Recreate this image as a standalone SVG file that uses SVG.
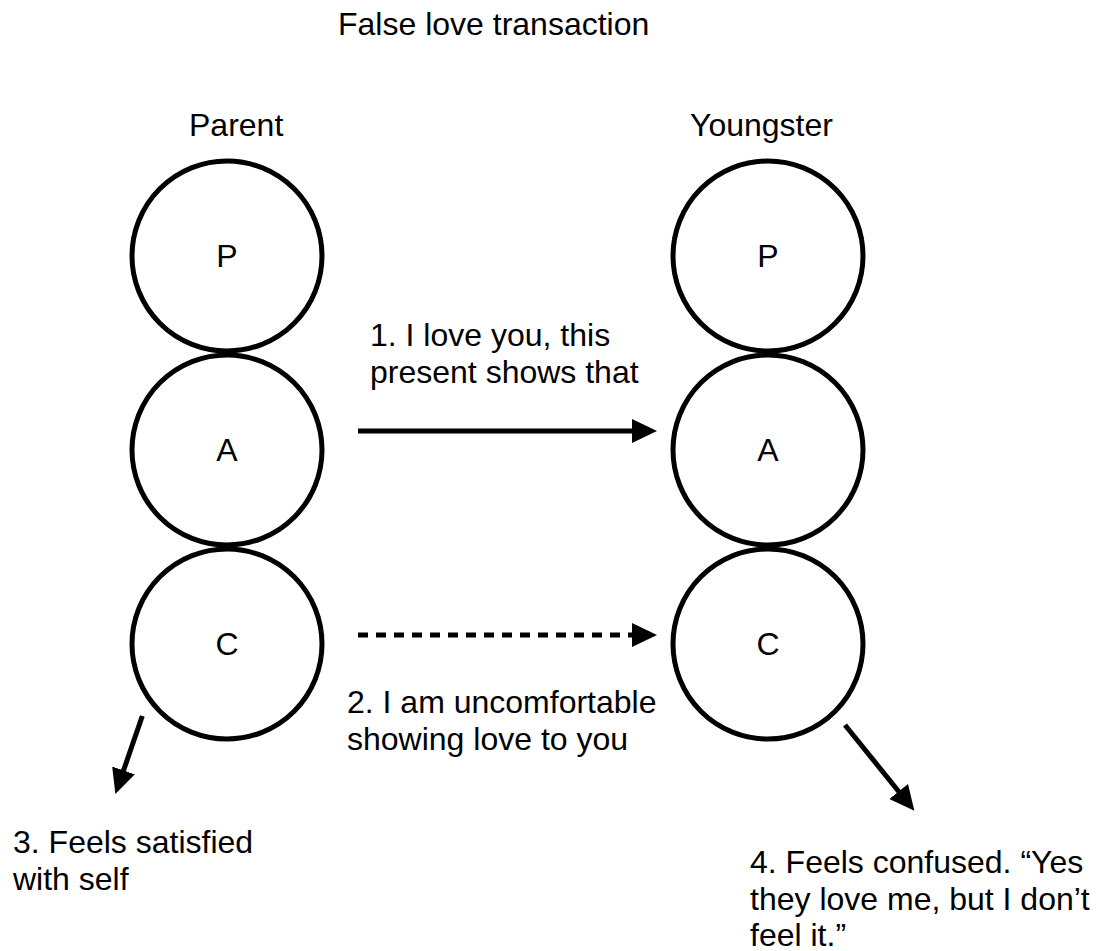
<svg xmlns="http://www.w3.org/2000/svg" width="1101" height="951" viewBox="0 0 1101 951">
<style>
  text { font-family: "Liberation Sans", Arial, Helvetica, sans-serif; font-size: 32px; fill: #000; }
  .c { fill: #fff; stroke: #000; stroke-width: 5; }
  .mid { text-anchor: middle; }
  .ln { stroke: #000; stroke-width: 5; fill: none; }
  .dash { stroke-dasharray: 10 8; }
</style>
<defs>
  <marker id="ah" markerUnits="userSpaceOnUse" markerWidth="28" markerHeight="28" viewBox="0 -14 28 28" refX="1" refY="0" orient="auto">
    <path d="M0,-12 L25,0 L0,12 z" fill="#000"/>
  </marker>
</defs>
<rect width="1101" height="951" fill="#fff"/>
<text id="title" x="338" y="35">False love transaction</text>
<g id="parent">
  <text x="189" y="136">Parent</text>
  <g id="pP"><circle class="c" cx="227" cy="256" r="95"/><text class="mid" x="227" y="267">P</text></g>
  <g id="pA"><circle class="c" cx="227" cy="450" r="95"/><text class="mid" x="227" y="461">A</text></g>
  <g id="pC"><circle class="c" cx="227" cy="644" r="95"/><text class="mid" x="227" y="655">C</text></g>
</g>
<g id="youngster">
  <text x="690" y="136">Youngster</text>
  <g id="yP"><circle class="c" cx="768" cy="256" r="95"/><text class="mid" x="768" y="267">P</text></g>
  <g id="yA"><circle class="c" cx="768" cy="450" r="95"/><text class="mid" x="768" y="461">A</text></g>
  <g id="yC"><circle class="c" cx="768" cy="644" r="95"/><text class="mid" x="768" y="655">C</text></g>
</g>
<g id="connectors">
  <line class="ln" x1="358" y1="431" x2="633" y2="431" marker-end="url(#ah)"/>
  <line class="ln dash" x1="358" y1="635" x2="633" y2="635" marker-end="url(#ah)"/>
  <line class="ln" x1="142.3" y1="716" x2="123.2" y2="771.4" marker-end="url(#ah)"/>
  <line class="ln" x1="845" y1="725" x2="899.3" y2="792.2" marker-end="url(#ah)"/>
</g>
<g id="labels">
  <text x="370" y="346">1. I love you, this</text>
  <text x="370" y="383">present shows that</text>
  <text x="347" y="713">2. I am uncomfortable</text>
  <text x="347" y="750">showing love to you</text>
  <text x="13" y="853">3. Feels satisfied</text>
  <text x="13" y="890">with self</text>
  <text x="750" y="873">4. Feels confused. “Yes</text>
  <text x="750" y="910">they love me, but I don’t</text>
  <text x="750" y="946">feel it.”</text>
</g>
</svg>
